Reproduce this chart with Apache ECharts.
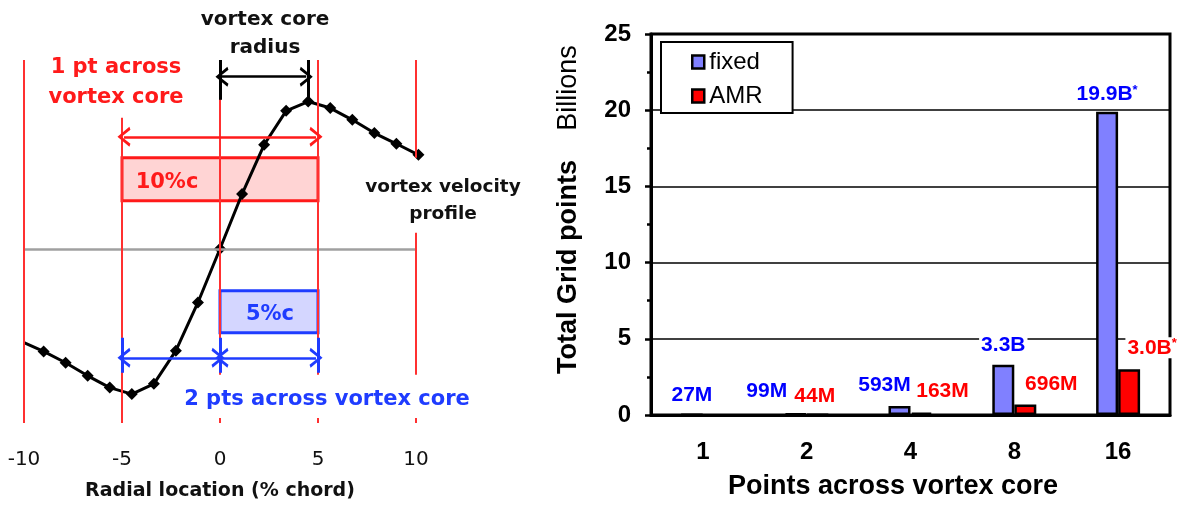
<!DOCTYPE html>
<html>
<head>
<meta charset="utf-8">
<script src="https://cdn.jsdelivr.net/npm/echarts@6/dist/echarts.min.js"></script>
<style>
  html, body { margin: 0; padding: 0; background: #fff; }
  #main { width: 1184px; height: 506px; }
</style>
</head>
<body>
<div id="main"></div>
<script>
// left panel - vortex velocity profile (radial location in % chord, velocity scaled to peak ~1)
var radial = [-10, -9, -7.875, -6.75, -5.625, -4.5, -3.375, -2.25, -1.125, 0, 1.125, 2.25, 3.375, 4.5, 5.625, 6.75, 7.875, 9, 10.125];
var velocity = [-0.647, -0.707, -0.785, -0.875, -0.956, -1.001, -0.930, -0.702, -0.370, 0, 0.377, 0.716, 0.950, 1.014, 0.969, 0.888, 0.797, 0.723, 0.647];
var radialTicks = [-10, -5, 0, 5, 10];

// guide lines: [x, yFrom, yTo]
var redGuides = [[-10, 1.3, -1.2], [-5, 0.902, -1.2], [0, 1.3, -0.868], [5, 1.3, -0.868],
  [10, 1.3, 0.627], [10, 0.11, -0.868], [0, -1.165, -1.2], [5, -1.165, -1.2], [10, -1.165, -1.2]];
var blueTicks = [[-5, -0.613, -0.854], [0, -0.613, -0.854], [5, -0.613, -0.854]];
var blackTicks = [[0, 1.3, 1.026], [4.5, 1.3, 1.02]];
// arrows: [xFrom, xTo, y]
var redArrows = [[-4.9, 4.9, 0.771]];
var blueArrows = [[-4.9, -0.1, -0.751], [0.1, 4.9, -0.751]];
var blackArrows = [[0.1, 4.4, 1.185]];
// boxes: [x1, y1, x2, y2]
var redBox = [-5, 0.627, 5, 0.331];
var blueBox = [0, -0.289, 5, -0.579];

// right panel - total grid points (billions)
var coreCats = ['1', '2', '4', '8', '16'];
var fixedPts = [0.027, 0.099, 0.593, 3.3, 19.9];
var amrPts = [null, 0.044, 0.163, 0.696, 3.0];
var fixedText = ['27M', '99M', '593M', '3.3B', '19.9B*'];
var amrText = ['', '44M', '163M', '696M', '3.0B*'];
var fixedOff = [[0, -3], [-29, -6], [-15, -5], [0, -4], [0, -2]];
var amrOff = [[0, 0], [-3, -2], [21, -6], [26, -5], [23, -6]];

var FONT_L = '"DejaVu Sans", Verdana, sans-serif';
var FONT_R = '"Liberation Sans", Arial, sans-serif';
var RED = '#ff1a1a', BLUE = '#1f3cff', LINE_RED = '#ff3030';
// open chevron arrow head (tip at top)
var ARROW = 'path://M0,11 L6,0 L12,11 L10.2,12 L6,3.8 L1.8,12 Z';

var chart = echarts.init(document.getElementById('main'));

function vLines(list, style) {
  return list.map(function (g) {
    return [{ coord: [g[0], g[1]], lineStyle: style }, { coord: [g[0], g[2]] }];
  });
}
function hArrows(list, style) {
  return list.map(function (a) {
    return [{ coord: [a[0], a[2]], lineStyle: style }, { coord: [a[1], a[2]] }];
  });
}

function barLabel(text) {
  if (!text) return '';
  if (text.indexOf('*') >= 0) {
    return '{m|' + text.slice(0, -1) + '}{s|*}';
  }
  return '{m|' + text + '}';
}
function barItems(values, texts, offs, color) {
  return values.map(function (v, i) {
    if (v === null) return '-';
    return {
      value: v,
      label: {
        show: !!texts[i],
        position: 'top',
        offset: offs[i],
        formatter: barLabel(texts[i]),
        backgroundColor: '#fff',
        padding: [0, 2],
        rich: {
          m: { fontSize: 21, fontWeight: 'bold', color: color, fontFamily: FONT_R },
          s: { fontSize: 13, fontWeight: 'bold', color: color, fontFamily: FONT_R, verticalAlign: 'top', padding: [0, 0, 8, 0] }
        }
      }
    };
  });
}

var profileData = radial.map(function (x, i) {
  var p = { value: [x, velocity[i]] };
  if (i === 0) p.symbol = 'none';
  return p;
});

var option = {
  animation: false,
  backgroundColor: '#fff',
  grid: [
    { left: 24, width: 392, top: 60, height: 363 },
    { left: 651, right: 14, top: 34, bottom: 91, show: true, borderColor: '#000', borderWidth: 3 }
  ],
  xAxis: [
    {
      gridIndex: 0, type: 'value', min: -10, max: 10, interval: 5,
      axisLine: { show: false }, axisTick: { show: false }, splitLine: { show: false },
      axisLabel: { color: '#111', fontSize: 20, fontFamily: FONT_L, margin: 27,
        customValues: radialTicks },
      name: 'Radial location (% chord)', nameLocation: 'middle', nameGap: 59,
      nameTextStyle: { color: '#111', fontSize: 19, fontWeight: 'bold', fontFamily: FONT_L }
    },
    {
      gridIndex: 1, type: 'category', data: coreCats,
      axisLine: { lineStyle: { color: '#000', width: 3 } },
      axisTick: { length: 7, lineStyle: { color: '#000', width: 2.5 } },
      axisLabel: { color: '#000', fontSize: 24, fontWeight: 'bold', fontFamily: FONT_R, margin: 25 }
    }
  ],
  yAxis: [
    { gridIndex: 0, type: 'value', min: -1.2, max: 1.3, show: false },
    {
      gridIndex: 1, type: 'value', min: 0, max: 25, interval: 5,
      axisLine: { show: true, lineStyle: { color: '#000', width: 3 } },
      axisTick: { show: true, length: 6, lineStyle: { color: '#000', width: 2.5 } },
      minorTick: { show: true, splitNumber: 2, length: 4, lineStyle: { color: '#000', width: 2.5 } },
      splitLine: { show: true, lineStyle: { color: '#000', width: 1.5 } },
      axisLabel: { color: '#000', fontSize: 24, fontWeight: 'bold', fontFamily: FONT_R, margin: 20 }
    }
  ],
  legend: {
    data: ['fixed', 'AMR'], orient: 'vertical', left: 661, top: 42,
    backgroundColor: '#fff', borderColor: '#000', borderWidth: 2, borderRadius: 0,
    padding: [8, 30, 5, 30], itemGap: 10, itemWidth: 12, itemHeight: 13, icon: 'rect',
    itemStyle: { borderColor: '#000', borderWidth: 2.5 },
    textStyle: { color: '#000', fontSize: 24, fontFamily: FONT_R }
  },
  series: [
    {
      name: 'guides', type: 'line', xAxisIndex: 0, yAxisIndex: 0, data: [], z: 1, silent: true,
      markLine: {
        silent: true, symbol: 'none', animation: false, label: { show: false },
        data: [[{ coord: [-10, 0], lineStyle: { color: '#a0a0a0', width: 2.5, type: 'solid' } }, { coord: [10, 0] }]]
          .concat(vLines(redGuides, { color: LINE_RED, width: 2, type: 'solid' }))
          .concat(vLines(blueTicks, { color: BLUE, width: 3, type: 'solid' }))
          .concat(vLines(blackTicks, { color: '#000', width: 3, type: 'solid' }))
      }
    },
    {
      name: 'arrows', type: 'line', xAxisIndex: 0, yAxisIndex: 0, data: [], z: 2, silent: true,
      markLine: {
        silent: true, symbol: [ARROW, ARROW], symbolSize: [20, 13], animation: false, label: { show: false },
        data: hArrows(redArrows, { color: RED, width: 2.5, type: 'solid' })
          .concat(hArrows(blueArrows, { color: BLUE, width: 2.5, type: 'solid' }))
          .concat(hArrows(blackArrows, { color: '#000', width: 2.5, type: 'solid' }))
      }
    },
    {
      name: 'profile', type: 'line', xAxisIndex: 0, yAxisIndex: 0, z: 3, clip: false,
      data: profileData, symbol: 'diamond', symbolSize: 12, showAllSymbol: true,
      lineStyle: { color: '#000', width: 3 }, itemStyle: { color: '#000' }
    },
    {
      name: 'boxes', type: 'line', xAxisIndex: 0, yAxisIndex: 0, data: [], z: 4, silent: true,
      markArea: {
        silent: true, animation: false,
        data: [
          [{ coord: [redBox[0], redBox[1]],
             itemStyle: { color: 'rgba(255,0,0,0.17)', borderColor: RED, borderWidth: 3 },
             label: { show: true, position: 'inside', formatter: '10%c', offset: [-53, 3],
               color: RED, fontSize: 21, fontWeight: 'bold', fontFamily: FONT_L } },
           { coord: [redBox[2], redBox[3]] }],
          [{ coord: [blueBox[0], blueBox[1]],
             itemStyle: { color: '#d4d6ff', borderColor: BLUE, borderWidth: 3 },
             label: { show: true, position: 'inside', formatter: '5%c', offset: [1, 3],
               color: BLUE, fontSize: 21, fontWeight: 'bold', fontFamily: FONT_L } },
           { coord: [blueBox[2], blueBox[3]] }]
        ]
      }
    },
    {
      name: 'fixed', type: 'bar', xAxisIndex: 1, yAxisIndex: 1, barWidth: 22, barGap: '0%',
      itemStyle: { color: '#8080ff', borderColor: '#000', borderWidth: 2.5 },
      data: barItems(fixedPts, fixedText, fixedOff, '#0000ff')
    },
    {
      name: 'AMR', type: 'bar', xAxisIndex: 1, yAxisIndex: 1, barWidth: 22, barGap: '0%',
      itemStyle: { color: '#ff0000', borderColor: '#000', borderWidth: 2.5 },
      data: barItems(amrPts, amrText, amrOff, '#ff0000')
    }
  ],
  graphic: [
    { type: 'text', x: 265, y: 20, style: { text: 'vortex core', fill: '#111', font: 'bold 20px ' + FONT_L, align: 'center', verticalAlign: 'middle' } },
    { type: 'text', x: 265, y: 48, style: { text: 'radius', fill: '#111', font: 'bold 20px ' + FONT_L, align: 'center', verticalAlign: 'middle' } },
    { type: 'text', x: 116, y: 68, style: { text: '1 pt across', fill: RED, font: 'bold 21px ' + FONT_L, align: 'center', verticalAlign: 'middle' } },
    { type: 'text', x: 116, y: 98, style: { text: 'vortex core', fill: RED, font: 'bold 21px ' + FONT_L, align: 'center', verticalAlign: 'middle' } },
    { type: 'text', x: 443, y: 187, style: { text: 'vortex velocity', fill: '#111', font: 'bold 18.5px ' + FONT_L, align: 'center', verticalAlign: 'middle' } },
    { type: 'text', x: 443, y: 214, style: { text: 'profile', fill: '#111', font: 'bold 18.5px ' + FONT_L, align: 'center', verticalAlign: 'middle' } },
    { type: 'text', x: 327, y: 400, style: { text: '2 pts across vortex core', fill: BLUE, font: 'bold 21px ' + FONT_L, align: 'center', verticalAlign: 'middle' } },
    { type: 'text', x: 569, y: 267, rotation: Math.PI / 2, style: { text: 'Total Grid points', fill: '#000', font: 'bold 27px ' + FONT_R, align: 'center', verticalAlign: 'middle' } },
    { type: 'text', x: 569, y: 88, rotation: Math.PI / 2, style: { text: 'Billions', fill: '#000', font: '27px ' + FONT_R, align: 'center', verticalAlign: 'middle' } },
    { type: 'text', x: 893, y: 487, style: { text: 'Points across vortex core', fill: '#000', font: 'bold 27px ' + FONT_R, align: 'center', verticalAlign: 'middle' } }
  ]
};

chart.setOption(option);
</script>
</body>
</html>
